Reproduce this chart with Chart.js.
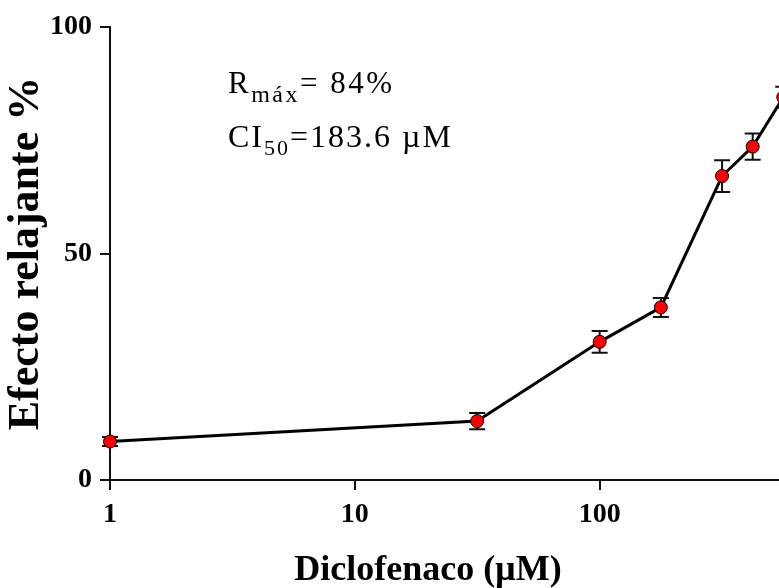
<!DOCTYPE html>
<html>
<head>
<meta charset="utf-8">
<script src="https://cdn.jsdelivr.net/npm/chart.js@4"></script>
<style>
  html, body { margin: 0; padding: 0; background: #fff; overflow: hidden; }
  #wrap { width: 779px; height: 588px; overflow: hidden; }
</style>
</head>
<body>
<div id="wrap"><canvas id="doseChart" width="852" height="588"></canvas></div>
<script>
// Diclofenaco concentration (µM) and relaxant effect (%) with SEM
const concentrations = [1, 31.6, 100, 177.8, 316.2, 421.7, 562.3];
const effect = [8.5, 13.0, 30.5, 38.1, 67.1, 73.6, 84.5];
const sem = [1.0, 1.8, 2.4, 2.1, 3.5, 2.9, 2.3];
const xTickValues = [1, 10, 100];
const yTickValues = [0, 50, 100];

const serif = '"Liberation Serif", "Times New Roman", serif';

// error bars go under the markers
const errorBars = {
    id: 'errorBars',
    beforeDatasetsDraw(chart) {
        const ctx = chart.ctx;
        const xs = chart.scales.x, ys = chart.scales.y;
        ctx.save();
        ctx.strokeStyle = '#111';
        ctx.lineWidth = 2;
        concentrations.forEach(function(c, i) {
            const px = xs.getPixelForValue(c);
            const top = ys.getPixelForValue(effect[i] + sem[i]);
            const bot = ys.getPixelForValue(effect[i] - sem[i]);
            ctx.beginPath();
            ctx.moveTo(px, top); ctx.lineTo(px, bot);
            ctx.moveTo(px - 8, top); ctx.lineTo(px + 8, top);
            ctx.moveTo(px - 8, bot); ctx.lineTo(px + 8, bot);
            ctx.stroke();
        });
        ctx.restore();
    }
};

// draws a run of text pieces, some lowered as subscripts
function drawRun(ctx, x, y, parts, spacing) {
    ctx.letterSpacing = spacing + 'px';
    parts.forEach(function(p) {
        ctx.font = p.size + 'px ' + serif;
        ctx.fillText(p.text, x, y + (p.drop || 0));
        x += ctx.measureText(p.text).width;
    });
    ctx.letterSpacing = '0px';
}

const labels = {
    id: 'labels',
    afterDraw(chart) {
        const ctx = chart.ctx;
        ctx.save();
        ctx.fillStyle = '#000';
        ctx.textBaseline = 'alphabetic';
        ctx.textAlign = 'left';
        drawRun(ctx, 228, 93, [
            { text: 'R', size: 31 },
            { text: 'máx', size: 24, drop: 9 },
            { text: '= 84%', size: 31 }
        ], 2.5);
        drawRun(ctx, 228, 147, [
            { text: 'CI', size: 32 },
            { text: '50', size: 22, drop: 8 },
            { text: '=183.6 µM', size: 32 }
        ], 2);

        // x axis title
        ctx.font = 'bold 36px ' + serif;
        ctx.textAlign = 'center';
        ctx.fillText('Diclofenaco (µM)', 428, 580);
        ctx.restore();
    }
};

const ctx = document.getElementById('doseChart').getContext('2d');
new Chart(ctx, {
    type: 'scatter',
    data: {
        datasets: [{
            data: concentrations.map((c, i) => ({ x: c, y: effect[i] })),
            showLine: true,
            borderColor: '#000',
            borderWidth: 3,
            pointRadius: 6.5,
            pointHoverRadius: 6.5,
            pointBackgroundColor: '#ff0000',
            pointBorderColor: '#000',
            pointBorderWidth: 1,
            clip: false
        }]
    },
    options: {
        responsive: false,
        animation: false,
        layout: { padding: { top: 27, left: 0, right: 0, bottom: 0 } },
        plugins: {
            legend: { display: false },
            tooltip: { enabled: false }
        },
        scales: {
            x: {
                type: 'logarithmic',
                min: 1,
                max: 1000,
                afterBuildTicks: function(scale) {
                    scale.ticks = xTickValues.map(v => ({ value: v }));
                },
                afterFit: function(scale) { scale.height = 108; },
                border: { display: true, color: '#111', width: 2 },
                grid: { drawOnChartArea: false, drawTicks: true, tickLength: 10, color: '#111', lineWidth: 2 },
                ticks: {
                    color: '#000',
                    padding: 8,
                    font: { family: serif, size: 28, weight: 'bold' },
                    callback: function(v) { return String(v); }
                }
            },
            y: {
                min: 0,
                max: 100,
                afterBuildTicks: function(scale) {
                    scale.ticks = yTickValues.map(v => ({ value: v }));
                },
                afterFit: function(scale) { scale.width = 110; },
                border: { display: true, color: '#111', width: 2 },
                grid: { drawOnChartArea: false, drawTicks: true, tickLength: 10, color: '#111', lineWidth: 2 },
                ticks: {
                    color: '#000',
                    padding: 8,
                    font: { family: serif, size: 28, weight: 'bold' }
                },
                title: {
                    display: true,
                    text: 'Efecto relajante %',
                    color: '#000',
                    padding: { top: 0, bottom: 0 },
                    font: { family: serif, size: 44, weight: 'bold' }
                }
            }
        }
    },
    plugins: [errorBars, labels]
});
</script>
</body>
</html>
